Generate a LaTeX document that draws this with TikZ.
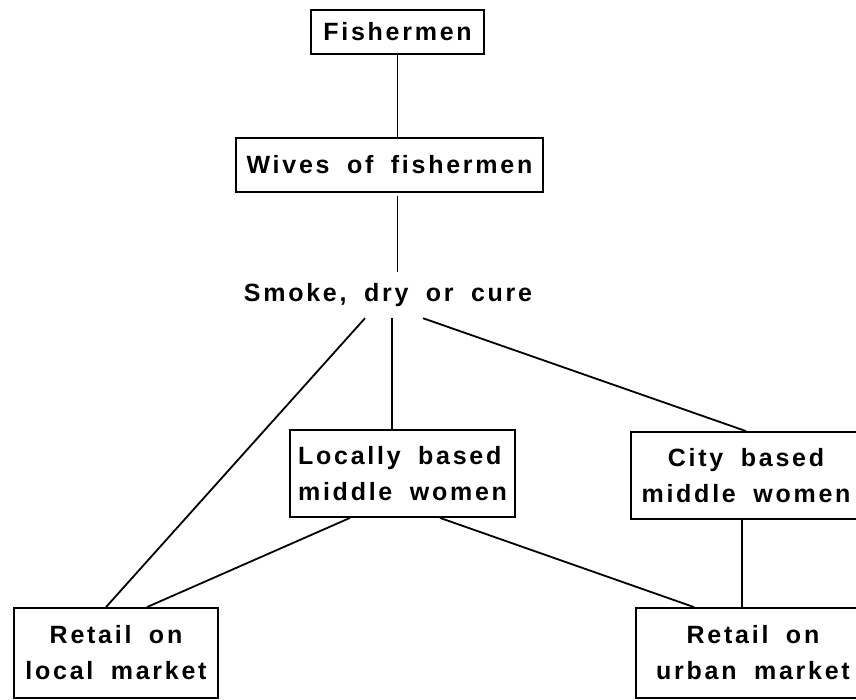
\documentclass[tikz,border=0pt]{standalone}
\usepackage{fontspec}
\setmainfont{Liberation Sans}[LetterSpace=11, WordSpace=1.8]
\usetikzlibrary{calc}
\begin{document}
\begin{tikzpicture}[x=1pt,y=-1pt,
  every node/.style={font=\bfseries\fontsize{25}{36}\selectfont, inner sep=0pt},
  box/.style={draw, line width=1.8pt, align=center},
  conn/.style={line width=1.8pt}]
\useasboundingbox (0,0) rectangle (856,700);
\begin{scope}
\clip (0,0) rectangle (856,700);
\node[box, minimum width=173, minimum height=44] (fish) at (397.5,32) {Fishermen};
\node[box, minimum width=307, minimum height=54] (wives) at (389.5,165) {Wives of fishermen};
\node[minimum height=46] (smoke) at (388,295) {Smoke, dry or cure};
\node[box, minimum width=225, minimum height=87, align=left] (loc) at (402.5,473.5) {Locally based\\middle women};
\node[box, minimum width=230, minimum height=87] (city) at (746,475.5) {City based\\middle women};
\node[box, minimum width=204, minimum height=90] (rloc) at (116,653) {Retail on\\local market};
\node[box, minimum width=234, minimum height=90] (rurb) at (753,653) {Retail on\\urban market};

\draw[conn] (fish.south) -- (fish.south |- wives.north);
\draw[conn] ([yshift=-3]fish.south |- wives.south) -- (fish.south |- smoke.north);
\draw[conn] ([xshift=4]smoke.south) -- ([xshift=4]smoke.south |- loc.north);
\draw[conn] ([xshift=-23]smoke.south) -- ([xshift=-10]rloc.north);
\draw[conn] ([xshift=35]smoke.south) -- (city.north);
\draw[conn] ([xshift=-52.5]loc.south) -- ([xshift=31]rloc.north);
\draw[conn] ([xshift=37.5]loc.south) -- ([xshift=-59]rurb.north);
\draw[conn] ([xshift=-4]city.south) -- ([xshift=-4]city.south |- rurb.north);
\end{scope}
\end{tikzpicture}
\end{document}
